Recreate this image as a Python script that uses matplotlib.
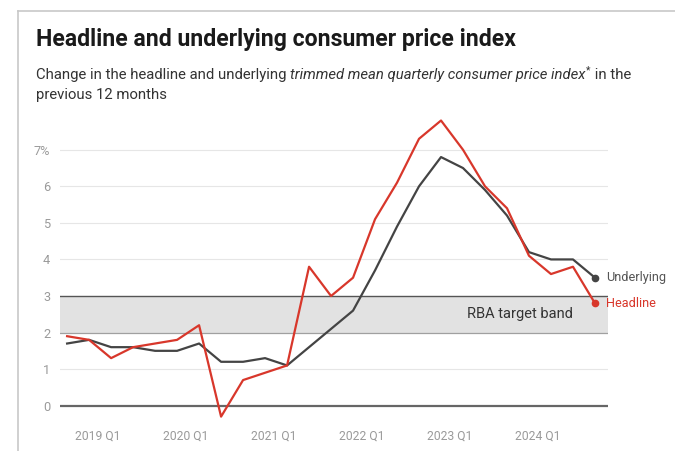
import matplotlib.pyplot as plt
from matplotlib.lines import Line2D

plt.rcParams['font.family'] = ['Roboto', 'DejaVu Sans']

# Quarterly, 2018 Q3 to 2024 Q3
quarters = ['2018 Q3', '2018 Q4',
            '2019 Q1', '2019 Q2', '2019 Q3', '2019 Q4',
            '2020 Q1', '2020 Q2', '2020 Q3', '2020 Q4',
            '2021 Q1', '2021 Q2', '2021 Q3', '2021 Q4',
            '2022 Q1', '2022 Q2', '2022 Q3', '2022 Q4',
            '2023 Q1', '2023 Q2', '2023 Q3', '2023 Q4',
            '2024 Q1', '2024 Q2', '2024 Q3']
headline = [1.9, 1.8, 1.3, 1.6, 1.7, 1.8, 2.2, -0.3, 0.7, 0.9, 1.1, 3.8, 3.0,
            3.5, 5.1, 6.1, 7.3, 7.8, 7.0, 6.0, 5.4, 4.1, 3.6, 3.8, 2.8]
underlying = [1.7, 1.8, 1.6, 1.6, 1.5, 1.5, 1.7, 1.2, 1.2, 1.3, 1.1, 1.6, 2.1,
              2.6, 3.7, 4.9, 6.0, 6.8, 6.5, 5.9, 5.2, 4.2, 4.0, 4.0, 3.5]
tick_labels = ['2019 Q1', '2020 Q1', '2021 Q1', '2022 Q1', '2023 Q1', '2024 Q1']
yticks = [0, 1, 2, 3, 4, 5, 6, 7]
band = (2, 3)

RED = '#d8372b'
DARK = '#444444'

fig = plt.figure(figsize=(6.75, 4.51), dpi=100)
ax = fig.add_axes([0.089, 0.06, 0.812, 0.689])

x = list(range(len(quarters)))
ax.set_xlim(-0.32, 24.6)
ax.set_ylim(-0.5, 8.0)

# grid + target band
for v in yticks:
    if v == 0:
        ax.axhline(v, color='#666666', lw=1.6, zorder=2)
    elif v not in band:
        ax.axhline(v, color='#e6e6e6', lw=0.8, zorder=1)
ax.axhspan(band[0], band[1], color='#e2e2e2', lw=0, zorder=1)
ax.axhline(band[1], color='#555555', lw=1.0, zorder=2)
ax.axhline(band[0], color='#a0a0a0', lw=0.9, zorder=2)
ax.text(20.6, 2.5, 'RBA target band', fontsize=10.5, color='#333333',
        ha='center', va='center', zorder=3)

ax.plot(x, underlying, color=DARK, lw=1.6, zorder=4)
ax.plot(x, headline, color=RED, lw=1.6, zorder=5)
ax.plot(x[-1], underlying[-1], 'o', color=DARK, ms=4.5, zorder=6)
ax.plot(x[-1], headline[-1], 'o', color=RED, ms=4.5, zorder=6)
ax.text(x[-1] + 0.5, underlying[-1], 'Underlying', color='#555555',
        fontsize=9.2, va='center', clip_on=False)
ax.text(x[-1] + 0.5, headline[-1], 'Headline', color=RED,
        fontsize=9.2, va='center', clip_on=False)

# ticks at the start of each year, data plotted at quarter ends
ax.set_xticks([quarters.index(t) - 0.6 for t in tick_labels])
ax.set_xticklabels(tick_labels)
ax.set_yticks(yticks)
ax.set_yticklabels([str(v) if v < 7 else '7%' for v in yticks])
ax.tick_params(axis='both', length=0, colors='#9a9a9a', labelsize=8.7)
ax.tick_params(axis='y', pad=7, labelsize=9.2)
ax.tick_params(axis='x', pad=4)
for s in ax.spines.values():
    s.set_visible(False)

# frame lines
fig.add_artist(Line2D([0.027, 1.0], [0.976, 0.976], color='#c8c8c8', lw=1.2))
fig.add_artist(Line2D([0.027, 0.027], [0.0, 0.976], color='#c8c8c8', lw=1.2))

fig.text(0.053, 0.912, 'Headline and underlying consumer price index',
         fontsize=16.6, fontweight='bold', color='#1a1a1a', va='center')

# subtitle with italic part
fig.canvas.draw()
renderer = fig.canvas.get_renderer()
pieces = [('Change in the headline and underlying ', 'normal'),
          ('trimmed mean quarterly consumer price index', 'italic')]
xpos = 0.053
ypos = 0.833
for txt, style in pieces:
    t = fig.text(xpos, ypos, txt, fontsize=10.7, color='#333333',
                 style=style, va='center')
    bb = t.get_window_extent(renderer)
    xpos += bb.width / fig.bbox.width
t = fig.text(xpos + 0.001, ypos + 0.012, '*', fontsize=7.5, color='#333333', va='center')
xpos += t.get_window_extent(renderer).width / fig.bbox.width + 0.002
fig.text(xpos, ypos, ' in the', fontsize=10.7, color='#333333', va='center')
fig.text(0.053, 0.789, 'previous 12 months', fontsize=10.7, color='#333333', va='center')

fig.savefig('out.png', dpi=100)
